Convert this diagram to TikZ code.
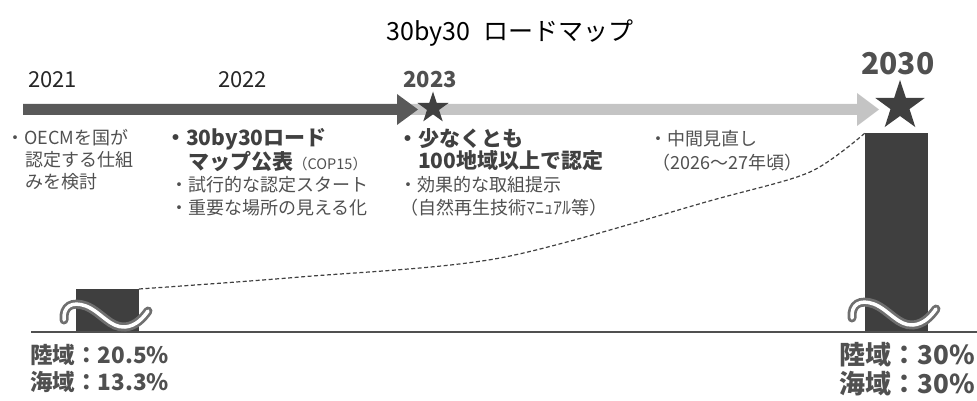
\documentclass[tikz,border=0pt]{standalone}
\usepackage{fontspec}
\setmainfont{Noto Sans CJK JP}
\usetikzlibrary{shapes.geometric}
\definecolor{txtgray}{HTML}{505050}
\definecolor{boldgray}{HTML}{404040}
\definecolor{yearblack}{HTML}{262626}
\definecolor{arrowdark}{HTML}{595959}
\definecolor{arrowlight}{HTML}{C4C4C4}
\definecolor{bardark}{HTML}{3F3F3F}
\definecolor{wavegray}{HTML}{6F6F6F}
\tikzset{
  body/.style={anchor=west, inner sep=0pt, text=txtgray, font=\fontsize{18}{18}\selectfont},
  bodyb/.style={anchor=west, inner sep=0pt, text=boldgray, font=\bfseries\fontsize{21}{21}\selectfont},
  year/.style={anchor=base west, inner sep=0pt, text=yearblack, font=\fontsize{22}{22}\selectfont},
  yearb/.style={anchor=base west, inner sep=0pt, text=txtgray, font=\bfseries\fontsize{22}{22}\selectfont},
  stargray/.style={star, star points=5, star point ratio=2.6, inner sep=0pt, fill=boldgray, draw=none},
  bar/.style={fill=bardark, draw=none},
  pct/.style={anchor=west, inner sep=0pt, text=txtgray, font=\bfseries\fontsize{22.5}{22.5}\selectfont},
  pctr/.style={anchor=east, inner sep=0pt, text=txtgray, font=\bfseries\fontsize{26}{26}\selectfont},
  wavebase/.style={line width=9pt, draw=wavegray, line cap=round},
  wavetop/.style={line width=3.5pt, draw=white, line cap=round},
  trend/.style={draw=boldgray, line width=1.2pt, dash pattern=on 4pt off 2.5pt},
}
\begin{document}
\begin{tikzpicture}[x=1pt,y=-1pt]
\useasboundingbox (0,0) rectangle (977,401);

% title
\node[anchor=base, inner sep=0pt, font=\fontsize{25}{25}\selectfont] (title) at (510,41) {30by30\hspace{0.5em}ロードマップ};

% years
\node[year] (y2021) at (28,88) {2021};
\node[year] (y2022) at (218,88) {2022};
\node[yearb] (y2023) at (403,88) {2023};
\node[anchor=base west, inner sep=0pt, text=txtgray, font=\bfseries\fontsize{30}{30}\selectfont] (y2030) at (861,75) {2030};

% arrows
\fill[arrowlight] (410,104) -- (857,104) -- (857,93) -- (879,109.5) -- (857,126) -- (857,115) -- (410,115) -- cycle;
\fill[arrowdark] (23,104) -- (397,104) -- (397,94) -- (418,109.5) -- (397,125) -- (397,115) -- (23,115) -- cycle;

% stars
\node[stargray, minimum size=33pt] (star23) at (433,108) {};
\node[stargray, minimum size=52pt] (star30) at (900,106) {};

% bars
\fill[bar] (76,289) rectangle (139,332);
\fill[bar] (865,133) rectangle (928,332);
\coordinate (barA) at (139,289);
\coordinate (barB) at (865,133);

% baseline
\draw[txtgray, line width=1.3pt] (31,332) -- (977,332);

% break waves
\foreach \dx/\dy in {0/0, 788/-2}{
  \begin{scope}[shift={(\dx,\dy)}]
    \draw[wavebase] (64,320) .. controls (63,306) and (72,301) .. (86,306) .. controls (101,312) and (110,328) .. (125,327) .. controls (136,326) and (143,318) .. (148,311);
    \draw[wavetop] (64,320) .. controls (63,306) and (72,301) .. (86,306) .. controls (101,312) and (110,328) .. (125,327) .. controls (136,326) and (143,318) .. (148,311);
  \end{scope}
}

% trend line
\draw[trend] (barA) plot[smooth, tension=0.5] coordinates {(139,289) (300,277) (500,258) (713,200) (810,172) (865,133)};

% column 1
\node[body] (c1a) at (6,138) {・OECMを国が};
\node[body] (c1b) at (25,160) {認定する仕組};
\node[body] (c1c) at (25,182) {みを検討};

% column 2
\node[bodyb] (c2a) at (165,139) {・30by30ロード};
\node[anchor=west, inner sep=0pt] (c2b) at (188,161) {\textcolor{boldgray}{\bfseries\fontsize{21}{21}\selectfont マップ公表}\textcolor{txtgray}{\fontsize{14.5}{14.5}\selectfont （COP15）}};
\node[body] (c2c) at (170,185) {・試行的な認定スタート};
\node[body] (c2d) at (170,208) {・重要な場所の見える化};

% column 3
\node[bodyb] (c3a) at (397,139) {・少なくとも};
\node[bodyb] (c3b) at (418,161) {100地域以上で認定};
\node[body] (c3c) at (399,185) {・効果的な取組提示};
\node[body] (c3d) at (400,208) {（自然再生技術ﾏﾆｭｱﾙ等）};

% column 4
\node[body] (c4a) at (649,139) {・中間見直し};
\node[body] (c4b) at (652,163) {（2026～27年頃）};

% percentages
\node[pct] (l1) at (30,355) {陸域：20.5\%};
\node[pct] (l2) at (30,382) {海域：13.3\%};
\node[pctr] (r1) at (975,355) {陸域：30\%};
\node[pctr] (r2) at (975,384) {海域：30\%};
\end{tikzpicture}
\end{document}
